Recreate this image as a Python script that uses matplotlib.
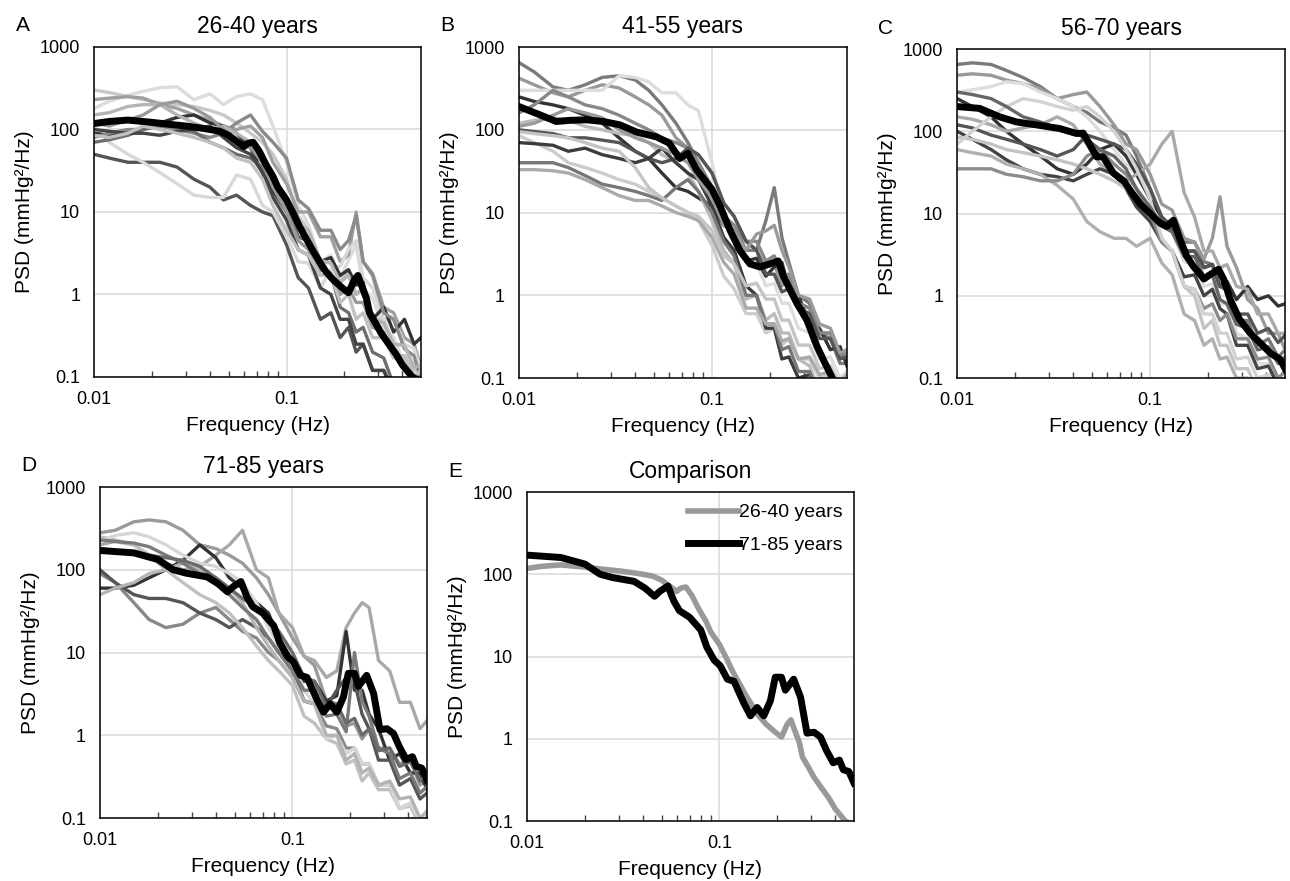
import numpy as np
import matplotlib
matplotlib.use("Agg")
import matplotlib.pyplot as plt
from matplotlib.ticker import FixedLocator, FixedFormatter, NullLocator

plt.rcParams['font.family'] = ['Liberation Sans', 'DejaVu Sans']

# 个体曲线共用的频率点 (Hz)
freq = [0.01, 0.012, 0.015, 0.018, 0.022, 0.027, 0.033, 0.04, 0.047, 0.055, 0.065, 0.075, 0.085, 0.1,
        0.115, 0.13, 0.15, 0.17, 0.19, 0.21, 0.23, 0.25, 0.28, 0.32, 0.36, 0.41, 0.46, 0.5]

# A: 26-40 years
a_lines = [
    [180, 220, 260, 290, 320, 330, 230, 270, 200, 250, 270, 230, 110, 40, 12, 7, 2.5, 3, 1.6, 2.6, 4, 1.2, 0.9, 0.4, 0.3, 0.14, 0.12, 0.07],
    [300, 280, 250, 230, 210, 200, 190, 170, 150, 120, 90, 70, 50, 25, 9, 6, 2.5, 2.4, 1.4, 1.9, 1.0, 1.2, 0.5, 0.5, 0.25, 0.25, 0.12, 0.14],
    [230, 240, 250, 240, 200, 180, 150, 130, 110, 100, 110, 80, 40, 22, 10, 10, 5, 5, 2.5, 3, 10, 2.5, 1.8, 0.7, 0.6, 0.3, 0.25, 0.13],
    [50, 45, 40, 40, 40, 35, 25, 20, 14, 16, 12, 10, 9, 4, 1.6, 1.2, 0.5, 0.6, 0.3, 0.4, 0.2, 0.25, 0.12, 0.12, 0.07, 0.06, 0.05, 0.05],
    [110, 70, 50, 40, 30, 22, 16, 15, 15, 28, 25, 12, 10, 5, 2.5, 2.4, 1.2, 2, 2.2, 3.5, 4.5, 1.6, 1.2, 0.5, 0.5, 0.25, 0.22, 0.12],
    [90, 85, 90, 100, 120, 140, 150, 120, 110, 90, 60, 30, 18, 10, 5, 4.5, 2.5, 2.8, 1.7, 2, 1.3, 1.4, 0.5, 0.7, 0.35, 0.5, 0.25, 0.3],
    [80, 90, 100, 100, 110, 100, 90, 80, 90, 120, 150, 95, 70, 45, 14, 11, 6, 6, 3.5, 4.5, 9, 2.5, 1.7, 0.6, 0.5, 0.22, 0.18, 0.09],
    [70, 75, 85, 100, 110, 110, 95, 70, 60, 50, 45, 35, 22, 12, 5, 4.5, 2, 1.8, 0.7, 0.6, 0.35, 0.4, 0.2, 0.17, 0.08, 0.08, 0.05, 0.06],
    [150, 160, 190, 200, 200, 150, 120, 100, 110, 90, 70, 50, 25, 12, 7, 6, 2.6, 2.4, 1.4, 1.7, 1.0, 1.2, 0.5, 0.45, 0.25, 0.24, 0.13, 0.14],
    [100, 95, 90, 90, 85, 95, 100, 110, 80, 60, 50, 30, 15, 8, 3.5, 3, 1.2, 1, 0.5, 0.5, 0.25, 0.25, 0.12, 0.12, 0.06, 0.06, 0.04, 0.05],
    [120, 110, 130, 150, 200, 220, 180, 140, 100, 70, 60, 40, 20, 10, 4.5, 3.5, 1.7, 1.8, 1, 1.2, 0.8, 0.8, 0.4, 0.35, 0.18, 0.18, 0.1, 0.12],
    [85, 80, 90, 110, 100, 90, 80, 70, 60, 45, 40, 25, 12, 6, 3.5, 3, 1.7, 1.8, 0.8, 1, 0.5, 0.6, 0.3, 0.3, 0.17, 0.18, 0.1, 0.12],
]
a_colors = ['#dcdcdc', '#c8c8c8', '#a0a0a0', '#555555', '#d8d8d8', '#333333',
            '#8a8a8a', '#6e6e6e', '#b4b4b4', '#444444', '#999999', '#c0c0c0']
a_mean_f = [0.01, 0.012, 0.015, 0.02, 0.025, 0.03, 0.035, 0.04, 0.045, 0.05, 0.055, 0.06, 0.063, 0.067, 0.072,
            0.078, 0.085, 0.09, 0.1, 0.11, 0.117, 0.125, 0.137, 0.15, 0.16, 0.175, 0.195, 0.21, 0.225, 0.235,
            0.245, 0.26, 0.27, 0.29, 0.31, 0.34, 0.37, 0.4, 0.45, 0.47]
a_mean = [118, 125, 130, 122, 115, 110, 105, 100, 95, 85, 72, 62, 68, 70, 55, 38, 27, 20, 14, 9, 6.6, 5, 3.4,
          2.4, 1.9, 1.5, 1.2, 1.05, 1.5, 1.7, 1.3, 0.9, 0.6, 0.45, 0.34, 0.25, 0.19, 0.14, 0.1, 0.095]

# B: 41-55 years
b_lines = [
    [650, 500, 330, 300, 350, 430, 450, 400, 300, 200, 120, 70, 40, 20, 9, 7, 3.5, 3.5, 8, 20, 5, 2.5, 1, 0.8, 0.35, 0.3, 0.15, 0.15],
    [420, 350, 280, 250, 300, 350, 320, 250, 200, 150, 80, 60, 50, 30, 13, 9, 4.5, 3.5, 2.2, 2.4, 1.3, 1.5, 0.8, 0.7, 0.35, 0.35, 0.18, 0.18],
    [300, 300, 300, 300, 300, 300, 450, 430, 380, 280, 280, 200, 170, 40, 9, 6, 2.5, 2.4, 1.3, 1.4, 0.8, 0.8, 0.4, 0.35, 0.17, 0.18, 0.1, 0.12],
    [250, 220, 200, 180, 150, 120, 80, 55, 45, 30, 20, 18, 15, 12, 7, 6, 2.6, 2.8, 1.7, 2.2, 2.5, 1.2, 1, 0.45, 0.4, 0.22, 0.24, 0.14],
    [160, 200, 300, 250, 200, 180, 150, 120, 100, 80, 70, 60, 40, 20, 9, 7, 4.5, 4.5, 2.6, 3, 1.7, 1.8, 0.8, 0.7, 0.35, 0.35, 0.18, 0.2],
    [120, 130, 140, 130, 110, 100, 90, 85, 70, 50, 40, 30, 18, 8, 3.5, 2.4, 0.9, 1, 0.5, 0.6, 0.35, 0.35, 0.17, 0.14, 0.07, 0.07, 0.05, 0.06],
    [100, 95, 90, 80, 80, 75, 70, 55, 45, 40, 45, 60, 50, 30, 13, 9, 4.5, 3.5, 1.8, 1.8, 1.1, 1.2, 0.7, 0.6, 0.3, 0.3, 0.17, 0.18],
    [85, 70, 55, 40, 35, 30, 25, 22, 18, 15, 12, 10, 8, 4, 1.7, 1.2, 0.6, 0.6, 0.35, 0.4, 0.25, 0.3, 0.17, 0.17, 0.1, 0.11, 0.07, 0.08],
    [70, 68, 65, 55, 60, 50, 45, 40, 45, 60, 40, 30, 25, 12, 5, 3.5, 1.3, 1, 0.4, 0.4, 0.17, 0.18, 0.1, 0.11, 0.07, 0.07, 0.05, 0.05],
    [40, 40, 40, 35, 28, 22, 20, 18, 16, 14, 20, 25, 18, 10, 4.5, 3, 1, 1, 0.45, 0.45, 0.22, 0.24, 0.12, 0.12, 0.06, 0.06, 0.04, 0.04],
    [33, 33, 32, 30, 25, 20, 16, 14, 14, 12, 10, 9, 8, 5, 2.5, 1.8, 0.7, 0.7, 0.45, 0.45, 0.28, 0.3, 0.17, 0.18, 0.11, 0.12, 0.09, 0.11],
    [95, 90, 85, 80, 70, 60, 55, 35, 20, 15, 12, 10, 9, 6, 3, 2.4, 1.3, 1.4, 0.9, 0.9, 0.5, 0.5, 0.25, 0.25, 0.13, 0.14, 0.08, 0.1],
    [110, 120, 150, 180, 160, 140, 100, 80, 70, 60, 50, 40, 25, 15, 7, 6, 3.5, 5.5, 6, 7, 3.5, 2.2, 1, 0.9, 0.45, 0.4, 0.2, 0.22],
]
b_colors = ['#7a7a7a', '#999999', '#dddddd', '#333333', '#888888', '#bbbbbb', '#555555',
            '#cccccc', '#3c3c3c', '#777777', '#aaaaaa', '#c4c4c4', '#9a9a9a']
b_mean_f = [0.01, 0.0128, 0.0156, 0.0183, 0.0223, 0.0273, 0.0332, 0.0406, 0.0516, 0.06, 0.068, 0.075, 0.083,
            0.1, 0.11, 0.124, 0.139, 0.157, 0.177, 0.2, 0.22, 0.234, 0.254, 0.275, 0.31, 0.35, 0.38, 0.42]
b_mean = [191, 152, 126, 130, 132, 126, 115, 94, 82, 69, 45, 52, 33, 19, 12, 6.1, 3.5, 2.4, 2.2, 2.4, 2.6,
          1.7, 1.16, 0.8, 0.5, 0.24, 0.16, 0.1]

# C: 56-70 years
c_lines = [
    [650, 680, 650, 550, 450, 350, 250, 200, 170, 130, 110, 90, 50, 20, 9, 7, 4.5, 4.5, 2.6, 2.4, 1.3, 1.2, 0.5, 0.5, 0.25, 0.3, 0.18, 0.22],
    [480, 500, 480, 420, 380, 330, 250, 280, 300, 200, 120, 70, 60, 30, 13, 11, 5, 4.5, 2.8, 5, 16, 4, 2.2, 0.9, 0.7, 0.35, 0.35, 0.22],
    [300, 320, 350, 400, 380, 300, 250, 200, 150, 100, 60, 40, 30, 15, 7, 6, 2.6, 2.4, 1.3, 1.4, 0.8, 0.8, 0.35, 0.3, 0.15, 0.15, 0.08, 0.1],
    [250, 200, 150, 100, 70, 50, 35, 30, 40, 60, 70, 50, 30, 15, 9, 6, 3.5, 3.5, 2.2, 2.4, 1.3, 1.5, 0.9, 1.3, 0.9, 1.0, 0.75, 0.8],
    [150, 140, 120, 100, 110, 120, 150, 120, 70, 40, 30, 25, 30, 40, 70, 100, 18, 9, 3.5, 3.5, 2.2, 2.4, 1.3, 1.2, 0.6, 0.6, 0.35, 0.35],
    [120, 110, 90, 80, 70, 60, 50, 60, 90, 80, 70, 60, 40, 20, 9, 7, 3.5, 3.5, 2.2, 2.4, 1.3, 1.2, 0.6, 0.6, 0.35, 0.4, 0.27, 0.33],
    [100, 80, 60, 45, 35, 30, 28, 25, 30, 35, 30, 20, 12, 8, 4.5, 3.5, 1.7, 1.8, 1, 1.2, 0.7, 0.6, 0.25, 0.25, 0.13, 0.14, 0.08, 0.1],
    [85, 80, 70, 60, 55, 50, 45, 40, 35, 30, 25, 20, 15, 10, 5, 3.5, 1.3, 1, 0.4, 0.5, 0.25, 0.25, 0.13, 0.13, 0.07, 0.08, 0.06, 0.07],
    [60, 55, 50, 40, 35, 30, 22, 15, 8, 6, 5, 5, 4, 5, 2.5, 1.8, 0.6, 0.5, 0.25, 0.3, 0.17, 0.18, 0.1, 0.1, 0.06, 0.06, 0.05, 0.05],
    [35, 35, 35, 30, 28, 25, 25, 30, 50, 60, 40, 30, 20, 10, 4.5, 3.5, 1.3, 1.2, 0.7, 0.8, 0.5, 0.6, 0.3, 0.3, 0.17, 0.18, 0.1, 0.12],
    [70, 100, 150, 200, 250, 230, 200, 180, 200, 150, 100, 60, 35, 15, 5, 3.5, 1.3, 1.2, 0.6, 0.6, 0.35, 0.35, 0.17, 0.18, 0.1, 0.11, 0.07, 0.08],
    [300, 280, 250, 200, 150, 130, 110, 100, 80, 60, 50, 35, 20, 12, 7, 6, 3, 3, 1.7, 1.8, 0.9, 0.8, 0.45, 0.4, 0.22, 0.24, 0.15, 0.18],
]
c_colors = ['#7a7a7a', '#999999', '#dddddd', '#333333', '#aaaaaa', '#555555',
            '#444444', '#c4c4c4', '#b0b0b0', '#8c8c8c', '#d2d2d2', '#666666']
c_mean_f = [0.01, 0.0131, 0.0166, 0.0203, 0.0268, 0.034, 0.0416, 0.045, 0.0488, 0.0528, 0.057, 0.0645, 0.073,
            0.079, 0.089, 0.1, 0.113, 0.122, 0.132, 0.143, 0.155, 0.167, 0.19, 0.2, 0.226, 0.24, 0.26, 0.29,
            0.33, 0.37, 0.42, 0.47, 0.5]
c_mean = [200, 190, 150, 130, 118, 108, 94, 95, 68, 49, 49, 31, 25, 19, 13, 10, 7.6, 7, 8.3, 4.8, 3.0, 2.3,
          1.6, 1.75, 2.1, 1.6, 0.9, 0.52, 0.35, 0.27, 0.2, 0.17, 0.13]

# D: 71-85 years
d_lines = [
    [280, 300, 380, 400, 380, 300, 200, 180, 150, 120, 80, 50, 30, 15, 9, 7, 2.6, 2.4, 1.3, 1.4, 0.9, 1.2, 0.7, 0.7, 0.45, 0.5, 0.25, 0.3],
    [200, 220, 200, 150, 120, 100, 110, 150, 200, 300, 100, 80, 30, 20, 9, 8, 5, 6, 20, 30, 40, 35, 8, 6, 2.5, 2.5, 1.2, 1.5],
    [60, 60, 65, 80, 100, 130, 200, 140, 80, 60, 40, 30, 15, 8, 4.5, 4.5, 2.6, 3, 18, 3.5, 3.5, 1.8, 1.2, 0.5, 0.6, 0.35, 0.35, 0.22],
    [90, 70, 40, 25, 20, 22, 30, 35, 25, 18, 15, 10, 8, 5, 2.6, 2.4, 1.3, 1.2, 0.7, 0.7, 0.45, 0.45, 0.25, 0.25, 0.13, 0.15, 0.09, 0.12],
    [100, 70, 50, 45, 45, 40, 30, 25, 20, 25, 20, 15, 10, 6, 2.6, 2.4, 2.2, 3.5, 5, 4.5, 1.8, 1.2, 0.5, 0.5, 0.25, 0.3, 0.17, 0.2],
    [250, 230, 200, 150, 100, 70, 50, 40, 30, 20, 12, 8, 6, 4, 1.7, 1.4, 0.9, 0.8, 0.45, 0.5, 0.28, 0.35, 0.22, 0.22, 0.13, 0.14, 0.08, 0.1],
    [220, 260, 280, 250, 200, 150, 120, 110, 90, 70, 40, 20, 12, 8, 3.5, 2.4, 0.9, 1, 0.6, 0.7, 0.45, 0.45, 0.25, 0.25, 0.13, 0.15, 0.09, 0.12],
    [50, 60, 70, 90, 100, 120, 100, 80, 60, 40, 20, 12, 8, 5, 2.6, 2.4, 1, 1, 0.5, 0.6, 0.35, 0.4, 0.25, 0.28, 0.17, 0.18, 0.1, 0.12],
    [230, 220, 210, 190, 150, 120, 90, 70, 50, 35, 25, 15, 10, 6, 3.5, 3.5, 1.7, 1.8, 1.1, 10, 2.6, 1.7, 0.7, 0.6, 0.3, 0.35, 0.2, 0.24],
    [180, 170, 160, 150, 140, 130, 110, 80, 60, 45, 35, 25, 18, 10, 5, 4.5, 2.2, 2.4, 1.4, 1.6, 1, 1.2, 0.65, 0.7, 0.42, 0.48, 0.28, 0.36],
]
d_colors = ['#9a9a9a', '#a8a8a8', '#333333', '#888888', '#555555', '#c0c0c0',
            '#d6d6d6', '#b4b4b4', '#7a7a7a', '#6a6a6a']
d_mean_f = [0.01, 0.015, 0.02, 0.024, 0.028, 0.036, 0.041, 0.046, 0.049, 0.054, 0.058, 0.062, 0.07, 0.08,
            0.086, 0.094, 0.101, 0.11, 0.119, 0.134, 0.145, 0.157, 0.17, 0.184, 0.195, 0.21, 0.22, 0.243,
            0.264, 0.285, 0.31, 0.335, 0.36, 0.39, 0.42, 0.44, 0.47, 0.5]
d_mean = [171, 160, 133, 100, 91, 82, 68, 54, 62, 72, 47, 36, 30, 21, 13, 9, 7.7, 5.3, 5, 2.7, 1.9, 2.4, 1.9,
          2.9, 5.6, 5.6, 3.9, 5.3, 3.2, 1.17, 1.2, 1.05, 0.72, 0.51, 0.55, 0.42, 0.4, 0.29]

titles = ['26-40 years', '41-55 years', '56-70 years', '71-85 years', 'Comparison']
letters = ['A', 'B', 'C', 'D', 'E']

# 各子图位置 (figure fraction)
positions = [
    [0.0729, 0.5721, 0.2535, 0.3746],
    [0.4023, 0.5709, 0.2543, 0.3757],
    [0.7419, 0.5709, 0.2543, 0.3734],
    [0.0775, 0.0715, 0.2535, 0.3757],
    [0.4085, 0.0681, 0.2535, 0.3734],
]

fig = plt.figure(figsize=(12.9, 8.81), dpi=100)


def setup_axes(ax, title, letter):
    ax.set_xscale('log')
    ax.set_yscale('log')
    ax.set_xlim(0.01, 0.5)
    ax.set_ylim(0.1, 1000)
    ax.xaxis.set_major_locator(FixedLocator([0.01, 0.1]))
    ax.xaxis.set_major_formatter(FixedFormatter(['0.01', '0.1']))
    ax.xaxis.set_minor_locator(FixedLocator([0.02, 0.03, 0.04, 0.05, 0.06, 0.07, 0.08, 0.09,
                                             0.2, 0.3, 0.4]))
    ax.yaxis.set_major_locator(FixedLocator([0.1, 1, 10, 100, 1000]))
    ax.yaxis.set_major_formatter(FixedFormatter(['0.1', '1', '10', '100', '1000']))
    ax.yaxis.set_minor_locator(NullLocator())
    ax.tick_params(axis='both', which='major', length=0, labelsize=13, pad=10)
    ax.tick_params(axis='x', which='minor', direction='in', length=4, width=1, color='#444444')
    ax.grid(True, which='major', color='#d9d9d9', linewidth=1.1)
    ax.set_axisbelow(True)
    for s in ax.spines.values():
        s.set_linewidth(1.1)
        s.set_color('black')
    ax.set_xlabel('Frequency (Hz)', fontsize=15, labelpad=6)
    ax.set_ylabel('PSD (mmHg²/Hz)', fontsize=15, labelpad=4)
    ax.set_title(title, fontsize=16.5, pad=10)
    ax.text(-0.24, 1.035, letter, transform=ax.transAxes, fontsize=15, va='bottom', ha='left')


panels = [(a_lines, a_colors, a_mean_f, a_mean),
          (b_lines, b_colors, b_mean_f, b_mean),
          (c_lines, c_colors, c_mean_f, c_mean),
          (d_lines, d_colors, d_mean_f, d_mean)]

for i, (lines, colors, mf, mv) in enumerate(panels):
    ax = fig.add_axes(positions[i])
    for vals, col in zip(lines, colors):
        ax.plot(freq, vals, color=col, linewidth=2.4, solid_joinstyle='round')
    ax.plot(mf, mv, color='black', linewidth=5, solid_joinstyle='round')
    setup_axes(ax, titles[i], letters[i])

# E: 对比
ax = fig.add_axes(positions[4])
ax.plot(a_mean_f, a_mean, color='#999999', linewidth=4, label='26-40 years')
ax.plot(d_mean_f, d_mean, color='black', linewidth=5, label='71-85 years')
setup_axes(ax, titles[4], letters[4])
ax.legend(loc='upper right', frameon=False, fontsize=14, handlelength=2.6, handletextpad=0.0,
          labelspacing=0.75, borderaxespad=0.2)

fig.savefig('out.png', dpi=100)
